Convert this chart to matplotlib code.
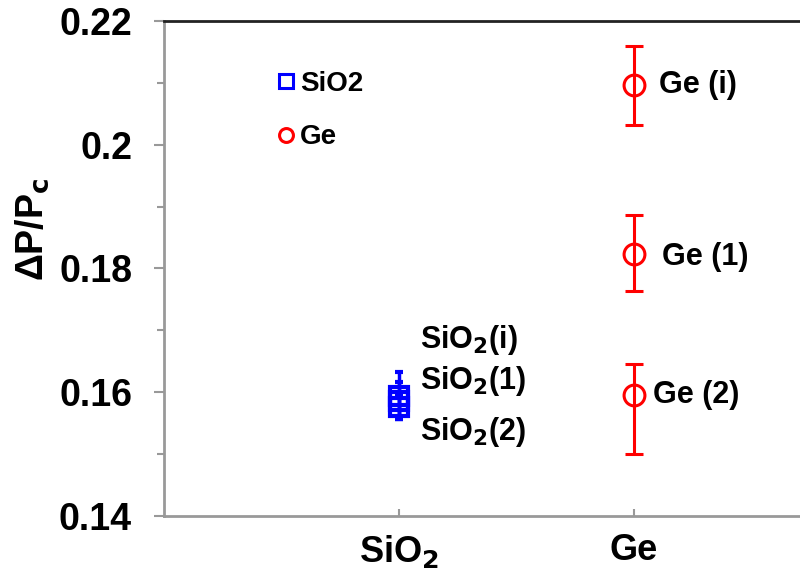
import numpy as np
import matplotlib.pyplot as plt
from matplotlib.lines import Line2D

plt.rcParams['font.family'] = ['Liberation Sans', 'DejaVu Sans']
plt.rcParams['font.weight'] = 'bold'

# category positions and tick labels
categories = [1, 2]
cat_labels = ['SiO$_\\mathbf{2}$', 'Ge']

# SiO2 samples
sio2_y = [0.1594, 0.1586, 0.1576]
sio2_err = [0.0038, 0.003, 0.002]
sio2_names = ['SiO$_\\mathbf{2}$(i)', 'SiO$_\\mathbf{2}$(1)', 'SiO$_\\mathbf{2}$(2)']

# Ge samples
ge_y = [0.2097, 0.1824, 0.1595]
ge_err_lo = [0.0065, 0.006, 0.0095]
ge_err_hi = [0.0063, 0.0062, 0.005]
ge_names = ['Ge (i)', 'Ge (1)', 'Ge (2)']

blue = '#0000ff'
red = '#ff0000'
gray = '#999999'

fig = plt.figure(figsize=(8, 5.78), dpi=100)
ax = fig.add_axes([0.205, 0.1073, 0.795, 0.8564])

ax.errorbar([categories[0]] * 3, sio2_y, yerr=sio2_err, fmt='s', ms=13,
            mfc='none', mec=blue, mew=3, ecolor=blue, elinewidth=2.5,
            capsize=3, capthick=2.5)
ax.errorbar([categories[1]] * 3, ge_y, yerr=[ge_err_lo, ge_err_hi], fmt='o',
            ms=15, mfc='none', mec=red, mew=2.2, ecolor=red, elinewidth=2.2,
            capsize=6.5, capthick=2.2)

# point labels
sio2_lab_y = [0.1684, 0.1618, 0.1535]
for n, yy in zip(sio2_names, sio2_lab_y):
    ax.text(categories[0] + 0.09, yy, n, fontsize=22, va='center', ha='left')
ge_lab_dx = [0.105, 0.12, 0.08]
ge_lab_y = [0.2097, 0.1818, 0.1595]
for n, dx, yy in zip(ge_names, ge_lab_dx, ge_lab_y):
    ax.text(categories[1] + dx, yy, n, fontsize=22, va='center', ha='left')

handles = [Line2D([], [], ls='none', marker='s', ms=10, mfc='none', mec=blue, mew=2.2),
           Line2D([], [], ls='none', marker='o', ms=10, mfc='none', mec=red, mew=2.2)]
ax.legend(handles, ['SiO2', 'Ge'], loc='upper left', bbox_to_anchor=(0.162, 0.922),
          frameon=False, fontsize=20, handlelength=0.6, handletextpad=0.2,
          labelspacing=1.0, borderaxespad=0)

ax.set_xlim(0, 2.706)
ax.set_ylim(0.14, 0.22)
ax.set_xticks(categories)
ax.set_xticklabels(cat_labels, fontsize=26, fontweight='bold')
ax.set_yticks([0.14, 0.16, 0.18, 0.2, 0.22])
ax.set_yticklabels(['0.14', '0.16', '0.18', '0.2', '0.22'], fontsize=27, fontweight='bold')
ax.set_yticks([0.15, 0.17, 0.19, 0.21], minor=True)

ax.tick_params(axis='y', which='major', direction='out', length=7, width=1.5,
               color=gray, pad=16)
ax.tick_params(axis='y', which='minor', direction='out', length=5, width=1.5, color=gray)
ax.tick_params(axis='x', direction='in', length=5, width=1.5, color=gray, pad=12)

ax.spines['left'].set_color(gray)
ax.spines['bottom'].set_color(gray)
ax.spines['left'].set_linewidth(2)
ax.spines['bottom'].set_linewidth(2)
ax.spines['top'].set_color('#222222')
ax.spines['top'].set_linewidth(2)
ax.spines['right'].set_visible(False)

ax.set_ylabel('ΔP/P$_\\mathbf{c}$', fontsize=27, fontweight='bold')
ax.yaxis.set_label_coords(-0.178, 0.58)

fig.savefig('out.png', dpi=100)
